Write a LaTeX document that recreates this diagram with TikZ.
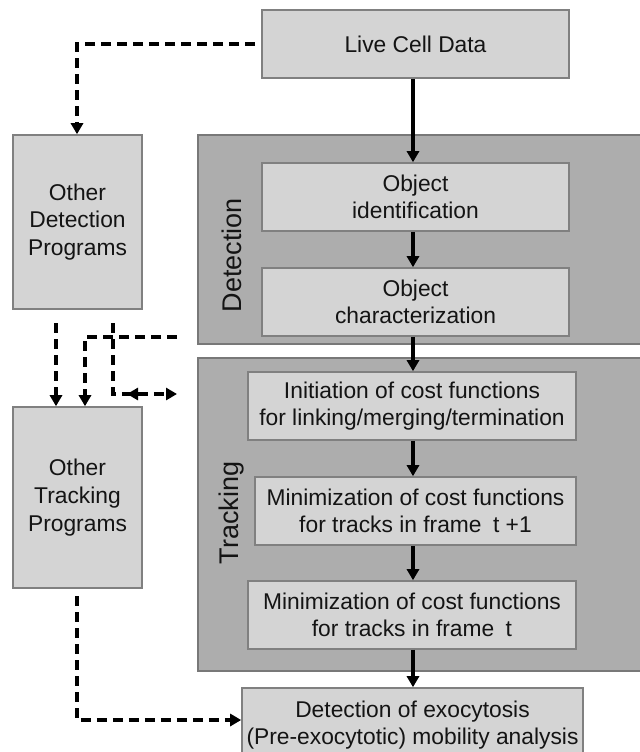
\documentclass[tikz,border=0pt]{standalone}
\usepackage{fontspec}
\setmainfont{Liberation Sans}
\usetikzlibrary{arrows.meta,fit}
\definecolor{boxfill}{HTML}{D4D4D4}
\definecolor{boxline}{HTML}{808080}
\definecolor{panelfill}{HTML}{ADADAD}
\definecolor{panelline}{HTML}{787878}
\definecolor{ink}{HTML}{141414}

\begin{document}
\begin{tikzpicture}[x=0.5pt,y=-0.5pt,
  box/.style={draw=boxline, fill=boxfill, line width=0.8pt, inner sep=0pt,
    align=center, text=ink, font=\fontsize{11.4}{13.8}\selectfont},
  wide/.style={minimum width=153.5pt, minimum height=34pt},
  tall/.style={minimum width=64.5pt},
  panel/.style={draw=panelline, fill=panelfill, line width=0.8pt, inner sep=0pt},
  tip/.style={-{Triangle[length=5.5pt,width=6pt]}},
  flow/.style={line width=1.7pt, tip},
  dflow/.style={line width=1.7pt, dash pattern=on 5pt off 3pt, tip},
  side/.style={rotate=90, text=ink, font=\fontsize{13.5}{16}\selectfont}]
\useasboundingbox (0,0) rectangle (640,752);

% grouping panels
\node[panel, fit={(198,135)(648,344)}] (detpanel) {};
\node[panel, fit={(198,358)(648,671)}] (trkpanel) {};
\node[side] (detlabel) at (232,255) {Detection};
\node[side] (trklabel) at (232,513) {Tracking};

% main pipeline
\node[box, wide] (live) at (415.5,44) {Live Cell Data};
\node[box, wide] (oid) at (415.5,197) {Object\\identification};
\node[box, wide] (och) at (415.5,302) {Object\\characterization};
\node[box, wide, minimum width=164pt] (init) at (412,406)
  {Initiation of cost functions\\for linking/merging/termination};
\node[box, wide, minimum width=160.5pt] (mtone) at (415.5,511)
  {Minimization of cost functions\\for tracks in frame\enspace t +1};
\node[box, wide, minimum width=164pt] (mt) at (412,615)
  {Minimization of cost functions\\for tracks in frame\enspace t};
\node[box, minimum width=170.5pt, minimum height=37pt] (exo) at (412.5,725)
  {Detection of exocytosis\\(Pre-exocytotic) mobility analysis};

% alternative programs
\node[box, tall, minimum height=87pt] (odp) at (77.5,222) {Other\\Detection\\Programs};
\node[box, tall, minimum height=90.5pt] (otp) at (77.5,497.5) {Other\\Tracking\\Programs};

% solid flow
\draw[flow] (live.south -| 413,0) -- (oid.north -| 413,0);
\draw[flow] (oid.south -| 413,0) -- (och.north -| 413,0);
\draw[flow] (och.south -| 413,0) -- (init.north -| 413,0);
\draw[flow] (init.south -| 413,0) -- (mtone.north -| 413,0);
\draw[flow] (mtone.south -| 413,0) -- (mt.north -| 413,0);
\draw[flow] (mt.south -| 413,0) -- (exo.north -| 413,0);

% dashed alternatives
\coordinate (lv) at (255,44);
\draw[dflow] (lv) -| (odp.north -| 77,0);

\coordinate (da) at (56,323);
\draw[dflow] (da) -- (da |- otp.north);

\coordinate (db) at (177,337);
\draw[dflow] (db) -| (otp.north -| 85,0);

\coordinate (dc) at (113,323);
\coordinate (dd) at (177,394);
\coordinate (de) at (127,394);
\draw[dflow] (dc) |- (dd);
\draw[line width=1.7pt, {Triangle[length=5.5pt,width=6pt]}-] (de) -- ++(9,0);

\coordinate (df) at (77,596);
\draw[dflow] (df) |- (exo.west |- 0,720);
\end{tikzpicture}
\end{document}
